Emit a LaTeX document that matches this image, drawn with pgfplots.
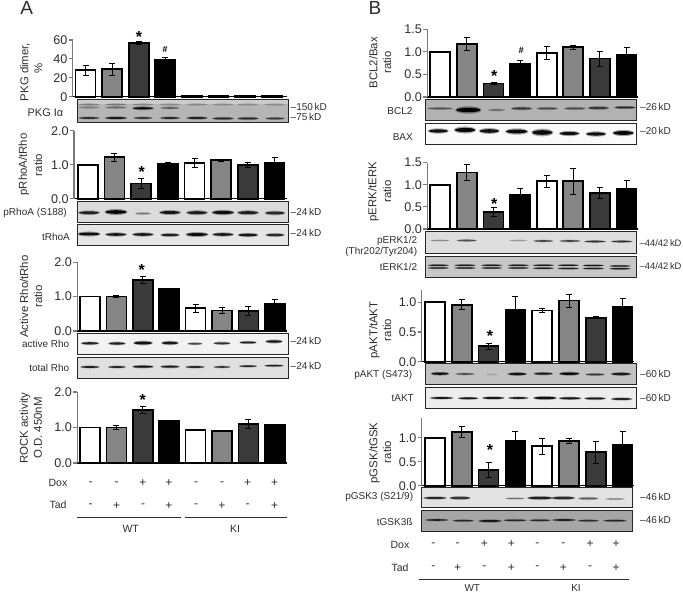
\documentclass[border=0pt]{standalone}
\usepackage{pgfplots}
\pgfplotsset{compat=1.18}
\usepackage{fontspec}
\setmainfont{Liberation Sans}
\definecolor{txt}{HTML}{2E2E2E}
\definecolor{axg}{HTML}{7A7A7A}
\definecolor{bargray}{HTML}{858585}
\definecolor{bardark}{HTML}{3A3A3A}
\newcommand\fs[1]{\fontsize{#1}{#1}\selectfont}
\pgfplotsset{
  bp/.style={ybar,bar shift=0pt,bar width=20pt,draw=black,line width=1.7pt,
    error bars/.cd,y dir=both,y explicit,
    error bar style={black,line width=0.9pt},
    error mark options={black,rotate=90,mark size=3pt,line width=0.9pt}},
}
\newcommand\bpanel[9]{%
  \pgfmathsetmacro\xa{(#1-#8)/#9}%
  \pgfmathsetmacro\xb{(#2-#8)/#9}%
  \pgfmathsetmacro\yp{594-#3}%
  \pgfmathsetmacro\wid{#2-#1}%
  \pgfmathsetmacro\hei{#3-#4}%
  \bpanelbody{#1}{#5}{#6}{#7}}
\newcommand\bpanelbody[8]{%
  \begin{axis}[scale only axis,width=\wid pt,height=\hei pt,at={(#1pt,\yp pt)},anchor=south west,
    xmin=\xa,xmax=\xb,ymin=0,ymax=#2,clip=false,
    axis x line*=bottom,axis y line*=left,
    x axis line style={-,black,line width=1.3pt},
    y axis line style={-,axg,line width=1.3pt},
    xtick=\empty,ytick={#3},yticklabels={#4},
    major tick length=4pt,
    ytick style={axg,line width=1.1pt},
    tick align=outside,
    yticklabel style={font=\fs{12.6},text=txt,inner sep=1.2pt}]
    \addplot[fill=white,bp] coordinates {#5};
    \addplot[fill=bargray,bp] coordinates {#6};
    \addplot[fill=bardark,bp] coordinates {#7};
    \addplot[fill=black,bp] coordinates {#8};
  \end{axis}}
\newcommand\frameb[4]{\draw[black!85,line width=1pt] (#1,#2) rectangle (#3,#4);}
% bands: x/y/halfwidth/thickness/opacity
\newcommand\bands[1]{\foreach \bx/\by/\bh/\bt/\bo in {#1}{%
  \pgfmathsetmacro\bol{0.35*\bo}%
  \fill[black,fill opacity=\bol] (\bx,\by) ellipse [x radius={\bh*1.1},y radius={\bt*1.7}];
  \fill[black,fill opacity=\bo] (\bx,\by) ellipse [x radius=\bh,y radius=\bt];}}
\newcommand\kd[3]{\node[anchor=west,inner sep=0,text=txt,font=\fs{10}] at (#1,#2) {–#3\,kD};}
\newcommand\kds[3]{\node[anchor=west,inner sep=0,text=txt,font=\fs{9.4}] at (#1,#2) {–#3\,kD};}
\newcommand\rl[3]{\node[anchor=east,inner sep=0,text=txt,font=\fs{10}] at (#1,#2) {#3};}
\newcommand\ytitle[3]{\node[rotate=90,inner sep=0,text=txt,font=\fs{11.4}] at (#1,#2) {#3};}
\newcommand\astk[2]{\node[inner sep=0,font=\fs{16}\bfseries,text=black] at (#1,#2) {*};}
\newcommand\hash[2]{\node[inner sep=0,font=\fs{9}\bfseries\itshape,text=black] at (#1,#2) {\#};}
\newcommand\sign[3]{\node[inner sep=0,font=\fs{12},text=txt] at (#1,#2) {#3};}
\begin{document}
\begin{tikzpicture}[x=1pt,y=1pt]
\useasboundingbox (0,0) rectangle (683,594);
\fill[white] (0,0) rectangle (683,594);

% ---------- A1
\bpanel{72.7}{287}{96.7}{40}{60}{0,20,40,60}{0,20,40,60}{85.5}{26.6}
 {(0,28)+-(0,5) (4,0.5)+-(0,0)}
 {(1,29)+-(0,6) (5,0.5)+-(0,0)}
 {(2,57)+-(0,1.5) (6,0.5)+-(0,0)}
 {(3,38.5)+-(0,3) (7,0.5)+-(0,0)}
% ---------- A2
\bpanel{74}{287}{198.7}{130.7}{2}{0,1,2}{0.0,1.0,2.0}{87.7}{26.7}
 {(0,1.0)+-(0,0) (4,1.05)+-(0,0.13)}
 {(1,1.22)+-(0,0.12) (5,1.13)+-(0,0.03)}
 {(2,0.45)+-(0,0.15) (6,1.0)+-(0,0.07)}
 {(3,1.03)+-(0,0.05) (7,1.06)+-(0,0.14)}
% ---------- A3
\bpanel{77.3}{287}{331}{262.3}{2}{0,1,2}{0.0,1.0,2.0}{90}{26.4}
 {(0,1.0)+-(0,0) (4,0.66)+-(0,0.12)}
 {(1,1.0)+-(0,0.03) (5,0.6)+-(0,0.09)}
 {(2,1.48)+-(0,0.1) (6,0.58)+-(0,0.14)}
 {(3,1.22)+-(0,0.01) (7,0.8)+-(0,0.13)}
% ---------- A4
\bpanel{77.3}{287}{463}{392}{2}{0,1,2}{0.0,1.0,2.0}{90}{26.4}
 {(0,1.0)+-(0,0) (4,0.93)+-(0,0.02)}
 {(1,1.0)+-(0,0.06) (5,0.9)+-(0,0.02)}
 {(2,1.5)+-(0,0.1) (6,1.1)+-(0,0.13)}
 {(3,1.2)+-(0,0) (7,1.07)+-(0,0.02)}
% ---------- B1
\bpanel{427.3}{638}{97}{29.3}{1.5}{0,0.5,1,1.5}{0.0,0.5,1.0,1.5}{440.3}{26.6}
 {(0,1.0)+-(0,0) (4,0.98)+-(0,0.14)}
 {(1,1.18)+-(0,0.15) (5,1.1)+-(0,0.04)}
 {(2,0.3)+-(0,0.03) (6,0.85)+-(0,0.17)}
 {(3,0.74)+-(0,0.07) (7,0.93)+-(0,0.16)}
% ---------- B2
\bpanel{427.3}{638}{229}{162.7}{1.5}{0,0.5,1,1.5}{0.0,0.5,1.0,1.5}{440.3}{26.6}
 {(0,1.0)+-(0,0) (4,1.08)+-(0,0.14)}
 {(1,1.28)+-(0,0.18) (5,1.08)+-(0,0.3)}
 {(2,0.38)+-(0,0.1) (6,0.82)+-(0,0.12)}
 {(3,0.78)+-(0,0.13) (7,0.9)+-(0,0.2)}
% ---------- B3
\bpanel{421.7}{634}{361.7}{290}{1.207}{0,0.5,1}{0.0,0.5,1.0}{435}{26.8}
 {(0,1.0)+-(0,0) (4,0.86)+-(0,0.03)}
 {(1,0.96)+-(0,0.08) (5,1.03)+-(0,0.11)}
 {(2,0.26)+-(0,0.05) (6,0.74)+-(0,0.02)}
 {(3,0.88)+-(0,0.21) (7,0.93)+-(0,0.13)}
% ---------- B4
\bpanel{421.7}{634}{485.7}{418}{1.41}{0,0.5,1}{0.0,0.5,1.0}{435}{26.8}
 {(0,1.0)+-(0,0) (4,0.82)+-(0,0.17)}
 {(1,1.12)+-(0,0.11) (5,0.93)+-(0,0.06)}
 {(2,0.33)+-(0,0.15) (6,0.7)+-(0,0.23)}
 {(3,0.93)+-(0,0.2) (7,0.85)+-(0,0.27)}

\begin{scope}[shift={(0,594)},y=-1pt,x=1pt]
\node[inner sep=0,font=\fs{19},text=txt] at (26.7,7.5) {A};
\node[inner sep=0,font=\fs{19},text=txt] at (375,7.5) {B};

\ytitle{25}{72}{PKG dimer,}\ytitle{38.5}{68}{\%}
\ytitle{24}{164.5}{pRhoA/tRho}\ytitle{38}{165}{ratio}
\ytitle{24}{296.5}{Active Rho/tRho}\ytitle{38}{296.5}{ratio}
\ytitle{25}{428}{ROCK activity}\ytitle{38}{428}{O.D. 450nM}
\ytitle{373.3}{62.7}{BCL2/Bax}\ytitle{387}{62.7}{ratio}
\ytitle{373.3}{191.7}{pERK/tERK}\ytitle{387}{191.7}{ratio}
\ytitle{374.3}{330}{pAKT/tAKT}\ytitle{387}{330}{ratio}
\ytitle{374.3}{453}{pGSK/tGSK}\ytitle{387}{452}{ratio}

\astk{139}{37}\hash{165}{49}
\astk{141.7}{172}
\astk{141.7}{270}
\astk{142.7}{400}
\astk{494.3}{76}\hash{521}{50}
\astk{494.3}{204}
\astk{490}{336}
\astk{490}{450}

% ---- blots A
\fill[black!29] (77,99.5) rectangle (288,122.5);
\fill[black!20] (77,99.5) rectangle (288,104);
\bands{89/104.5/10/0.8/0.22,116/104.5/10/0.8/0.25,143/104.5/10/0.8/0.2,170/104.5/10/0.8/0.18,197/104.5/10/0.8/0.2,223/104.5/10/0.8/0.18,248/104.5/10/0.8/0.18,275/104.5/10/0.8/0.18,
 89/107.5/10/0.8/0.25,116/107.5/10/0.8/0.35,143/108.3/10/1.1/0.9,170/108/9/0.8/0.4,
 89/118/10/0.9/0.65,116/118/10.5/1/0.8,143/118/9/0.9/0.6,170/118/9.5/0.9/0.7,197/118/10/1/0.75,223/118.5/10/1/0.7,248/118.5/10/1/0.7,275/118.5/9/0.9/0.6}
\frameb{77}{99.5}{288}{122.5}
\fill[black!14] (77,201.7) rectangle (288,222.3);
\bands{89/212.7/10/1.4/0.8,116/212/10.5/1.8/0.95,143/213.5/7.5/0.9/0.35,170/212.5/10/1.5/0.85,197/212.7/10/1.5/0.8,223/212.5/10.5/1.6/0.9,248/212.7/10/1.5/0.8,275/213/9.5/1.4/0.75}
\frameb{77}{201.7}{288}{222.3}
\fill[black!10] (77,225) rectangle (288,246);
\bands{89/234/10.5/1.5/0.9,116/234.5/10/1.3/0.85,143/234.5/10/1.3/0.85,170/235/9/1.2/0.8,197/234.5/10.5/1.5/0.9,223/234.5/10/1.3/0.85,248/235/9.5/1.3/0.85,275/235/9/1.2/0.75}
\frameb{77}{225}{288}{246}
\fill[black!5] (77,334) rectangle (288,354.3);
\bands{90/343.3/8.5/1.1/0.8,117/343.5/8/1.1/0.8,143/343/9/1.4/0.9,170/343/8/1.3/0.85,195/343.7/7/0.9/0.6,222/343.3/8/1/0.7,248/342.5/8/1/0.8,274/341.5/8/1.2/0.85}
\frameb{77}{334}{288}{354.3}
\fill[black!12] (77,357.3) rectangle (288,378.3);
\bands{90/367/9/0.9/0.8,117/367/8.5/0.9/0.75,143/366.7/10/1/0.9,170/366.7/9/1/0.8,195/367/9/0.9/0.75,222/367/8/0.8/0.7,248/366.2/8.5/0.8/0.75,274/365.7/9/0.8/0.8}
\frameb{77}{357.3}{288}{378.3}
% ---- blots B
\fill[black!30] (425.7,100) rectangle (636.7,120.7);
\bands{440/108.5/12/0.9/0.45,468.3/110/12/2.2/1,496.7/110/8/0.9/0.3,521.7/108.5/10/1.1/0.6,547.3/108.5/10/1/0.5,575/108.5/10/1/0.5,598.3/108/10/1.2/0.6,625/107.5/10/1/0.7}
\frameb{425.7}{100}{636.7}{120.7}
\fill[black!2] (425.7,123.3) rectangle (636.7,145);
\bands{438.3/131/9.5/1.6/0.9,465/130/10/2.1/0.95,489.3/131/9.5/1.8/0.9,516.7/131.5/10.5/1.9/0.95,542.3/132.5/10/2.3/0.95,569.3/133.5/9.5/1.6/0.9,596/134/9.5/1.6/0.9,623.3/133/10/1.9/0.95}
\frameb{425.7}{123.3}{636.7}{145}
\fill[black!13] (425.7,232) rectangle (636.7,254);
\bands{440/240.5/9/0.6/0.3,466.7/240.5/9.5/0.8/0.55,518.3/240.5/8.5/0.6/0.25,543.3/241/9.5/0.8/0.6,570/241/10/0.8/0.6,595/241.5/10/0.8/0.7,621.7/241.5/10/0.8/0.7}
\frameb{425.7}{232}{636.7}{254}
\fill[black!22] (425.7,256.7) rectangle (636.7,277.3);
\bands{438.3/265.3/10/0.7/0.8,465/265.3/10/0.7/0.8,491.7/265.3/10/0.7/0.8,518.3/265.3/10/0.7/0.8,543.3/265.3/10/0.7/0.8,568.3/265.3/10/0.7/0.8,593.3/265.5/10/0.7/0.8,620/266/10/0.7/0.8,
 438.3/268/10/0.7/0.8,465/268/10/0.7/0.8,491.7/268/10/0.7/0.8,518.3/268/10/0.7/0.8,543.3/268.3/10/0.7/0.8,568.3/268.5/10/0.7/0.8,593.3/268.5/10/0.7/0.8,620/268.7/10/0.7/0.8}
\frameb{425.7}{256.7}{636.7}{277.3}
\fill[black!24] (425.7,363.3) rectangle (636.7,385);
\bands{440/373.7/8.5/1.1/0.9,465/374/9/0.8/0.5,491.7/374.5/6/0.6/0.12,517.3/374/9/1.1/0.85,543.3/373.7/9/1/0.8,569.3/373.7/9.5/1.2/0.95,595/374.5/9/0.9/0.6,621/374/9.5/1.1/0.8}
\frameb{425.7}{363.3}{636.7}{385}
\fill[black!7] (425.7,387.3) rectangle (636.7,408.3);
\bands{441.7/398/11/0.9/0.85,468.3/398.3/9.5/0.9/0.85,493.3/398/10.5/1/0.85,518.3/398/9.5/0.9/0.8,545/398/11/1.2/0.9,570/398.3/10.5/1/0.85,595/398.5/10/1/0.85,621.7/399/10/1/0.8}
\frameb{425.7}{387.3}{636.7}{408.3}
\fill[black!11] (421,487.3) rectangle (632.3,507.7);
\bands{435/498/11/1/0.75,460/498/10/1.2/0.7,515/498.5/9/0.7/0.4,540/498/12/1.2/0.8,563.3/498/11/1.2/0.75,588.3/498.5/9.5/1/0.5,615/499/9/0.7/0.35}
\frameb{421}{487.3}{632.3}{507.7}
\fill[black!35] (421,510.7) rectangle (632.3,531.7);
\bands{436.7/520/11/0.8/0.75,463.3/520.7/10/0.8/0.7,490/521/11/1/0.8,515/520.3/11/0.8/0.7,540/520.3/10/0.8/0.7,564/520/11/0.9/0.75,588.3/520.7/10/0.8/0.65,615/520.7/11/0.8/0.7}
\frameb{421}{510.7}{632.3}{531.7}

% ---- blot labels A
\node[anchor=east,inner sep=0,text=txt,font=\fs{11}] at (63.5,112.5) {PKG Iα};
\kd{290.5}{106.5}{150}\kd{290.5}{117}{75}
\rl{67}{212.7}{pRhoA (S188)}\kd{290.5}{212}{24}
\rl{70}{237.3}{tRhoA}\kd{290.5}{232.7}{24}
\rl{69.5}{344}{active Rho}\kd{290.5}{341}{24}
\rl{69.5}{368.3}{total Rho}\kd{290.5}{366}{24}
% ---- blot labels B
\rl{412.7}{111}{BCL2}\kd{640}{107.3}{26}
\rl{413}{136.7}{BAX}\kd{640}{131.3}{20}
\rl{417.3}{240.7}{pERK1/2}\rl{417.3}{252}{(Thr202/Tyr204)}\kds{639.5}{243.3}{44/42}
\rl{417.3}{267.3}{tERK1/2}\kds{639.5}{266}{44/42}
\rl{412.3}{375}{pAKT (S473)}\kd{640}{374}{60}
\rl{414}{397.7}{tAKT}\kd{640}{398.3}{60}
\rl{413.3}{497.3}{pGSK3 (S21/9)}\kd{640}{497.3}{46}
\rl{412.7}{522}{tGSK3ß}\kd{640}{520}{46}

% ---- Dox / Tad A
\node[inner sep=0,text=txt,font=\fs{10.5}] at (58,482.7) {Dox};
\node[inner sep=0,text=txt,font=\fs{10.5}] at (58,505) {Tad};
\foreach \x/\d/\t in {90.7/-/-,116.7/-/+,143/+/-,169/+/+,196/-/-,222/-/+,247.7/+/-,274.7/+/+}{
  \sign{\x}{483.5}{\d}\sign{\x}{506}{\t}}
\draw[txt,line width=0.8pt] (77.3,517)--(180.7,517);
\draw[txt,line width=0.8pt] (185,517)--(287.3,517);
\node[inner sep=0,text=txt,font=\fs{10.5}] at (130.7,528.5) {WT};
\node[inner sep=0,text=txt,font=\fs{10.5}] at (235,528.5) {KI};
% ---- Dox / Tad B
\node[inner sep=0,text=txt,font=\fs{10.5}] at (400,545) {Dox};
\node[inner sep=0,text=txt,font=\fs{10.5}] at (400,567.3) {Tad};
\foreach \x/\d/\t in {433.3/-/-,457.7/-/+,484.3/+/-,511.3/+/+,537.3/-/-,563.3/-/+,590/+/-,616/+/+}{
  \sign{\x}{544.5}{\d}\sign{\x}{568}{\t}}
\draw[txt,line width=0.8pt] (419,579.3)--(629,579.3);
\node[inner sep=0,text=txt,font=\fs{10}] at (472.3,588.5) {WT};
\node[inner sep=0,text=txt,font=\fs{10}] at (576,588.5) {KI};
\end{scope}
\end{tikzpicture}
\end{document}
